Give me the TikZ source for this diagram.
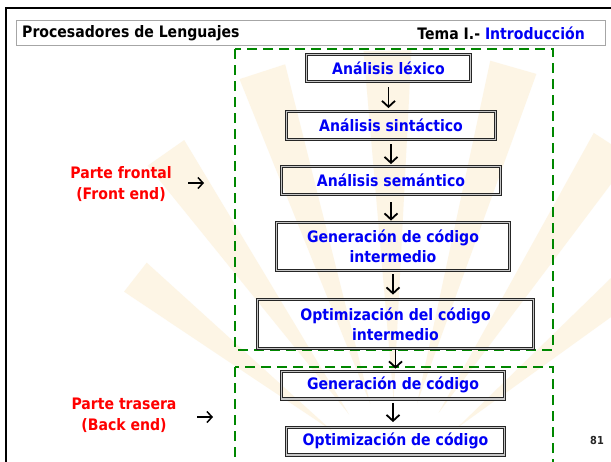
\documentclass[tikz,border=0pt]{standalone}
\usepackage{fontspec}
\setmainfont{DejaVu Sans}[FakeStretch=0.89]
\usetikzlibrary{arrows.meta,calc}
\definecolor{ugreen}{RGB}{0,135,0}
\definecolor{ublue}{RGB}{0,0,245}
\definecolor{ured}{RGB}{255,0,0}
\definecolor{wmcol}{RGB}{246,210,140}
\tikzset{
  stagebox/.style={draw=black!85, line width=1pt, double=gray!45, double distance=1.2pt,
    inner sep=0pt, align=center, text=ublue, font=\bfseries\fontsize{15.8}{19.7}\selectfont},
  partbox/.style={draw=ugreen, line width=2.5pt, dash pattern=on 10pt off 6pt},
  darr/.style={draw=black, line width=1.8pt, -{Straight Barb[length=6pt,width=13pt]}},
  harr/.style={draw=black, line width=1.5pt, -{Straight Barb[length=5pt,width=11pt]}},
  partlabel/.style={align=center, text=ured, font=\bfseries\fontsize{15.8}{21}\selectfont},
  wm/.style={fill=wmcol, opacity=0.22}
}
\begin{document}
\begin{tikzpicture}[x=1pt,y=-1pt]
\useasboundingbox (0,0) rectangle (611,461);
\fill[white] (0,0) rectangle (611,461);
% watermark sunburst
\coordinate (wc) at (395,480);
\foreach \a/\r in {40/330,57/400,74/430,91/430,108/430,125/400,142/330}{
  \fill[wm] ($(wc)+(-\a:80)$) -- ($(wc)+(-\a+3.2:\r)$) -- ($(wc)+(-\a-3.2:\r)$) -- cycle;
}
% slide border
\draw[line width=2.5pt, black] (6,470) -- (6,8) -- (620,8);
% header
\node[draw=gray!70, line width=0.8pt, minimum width=589pt, minimum height=25pt, inner sep=0pt] (hdr) at (310.5,32.5) {};
\node[anchor=west, inner sep=0pt, font=\bfseries\fontsize{15.8}{19}\selectfont] (title) at (22,33) {Procesadores de Lenguajes};
\node[anchor=east, inner sep=0pt, font=\bfseries\fontsize{15.8}{19}\selectfont] (tema) at (585,33) {Tema I.- \textcolor{ublue}{Introducción}};
% part boxes
\draw[partbox] (235,49) rectangle (553,350);
\draw[partbox] (235,367) rectangle (553,475);
% stage boxes
\node[stagebox, minimum width=163.8pt, minimum height=26.8pt] (b1) at (388.5,68) {Análisis léxico};
\node[stagebox, minimum width=208.8pt, minimum height=27.8pt] (b2) at (391,125.5) {Análisis sintáctico};
\node[stagebox, minimum width=218.8pt, minimum height=27.8pt] (b3) at (391,180.5) {Análisis semántico};
\node[stagebox, minimum width=232.8pt, minimum height=47.8pt] (b4) at (393,246.5) {Generación de código\\intermedio};
\node[stagebox, minimum width=275.8pt, minimum height=48.8pt] (b5) at (395.5,324) {Optimización del código\\intermedio};
\node[stagebox, minimum width=222.8pt, minimum height=27.8pt] (b6) at (393,385) {Generación de código};
\node[stagebox, minimum width=217.8pt, minimum height=27.8pt] (b7) at (395.5,441) {Optimización de código};
% arrows
\draw[darr, shorten <=5.5pt, shorten >=3pt] (b1) -- (b1 |- b2.north);
\draw[darr, shorten <=4.5pt, shorten >=2pt] (b2) -- (b2 |- b3.north);
\draw[darr, shorten <=7.5pt, shorten >=1.5pt] (b3) -- (b3 |- b4.north);
\draw[darr, shorten <=3.5pt, shorten >=4.5pt] (b4) -- (b4 |- b5.north);
\draw[darr, shorten <=0.5pt, shorten >=2pt] (b5) -- (b5 |- b6.north);
\draw[darr, shorten <=3.5pt, shorten >=4.5pt] (b6) -- (b6 |- b7.north);
% part labels
\node[partlabel] (fe) at (121,184.5) {Parte frontal\\(Front end)};
\node[partlabel] (be) at (124,415.5) {Parte trasera\\(Back end)};
\coordinate (fea) at (188,183);
\coordinate (feb) at (204,183);
\coordinate (bea) at (197,417);
\coordinate (beb) at (213,417);
\draw[harr] (fea) -- (feb);
\draw[harr] (bea) -- (beb);
% page number
\node[font=\bfseries\fontsize{11}{14}\selectfont, text=black!85] (pg) at (597,440) {81};
\end{tikzpicture}
\end{document}
